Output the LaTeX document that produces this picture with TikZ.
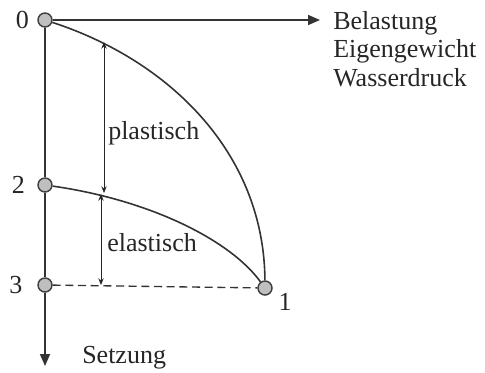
\documentclass[tikz,border=0pt]{standalone}
\usepackage{fontspec}
\setmainfont{Liberation Serif}
\usetikzlibrary{arrows.meta, positioning}

\begin{document}
\begin{tikzpicture}[
    x=0.75pt, y=-0.75pt,
    knot/.style={circle, draw=black!75, fill=black!25, line width=1.1pt, minimum size=10.5pt, inner sep=0pt},
    line/.style={line width=1.2pt, draw=black!80},
    arr/.style={line, -{Triangle[length=9pt, width=7.5pt]}},
    dbl/.style={{Stealth[length=5pt, width=4pt]}-{Stealth[length=5pt, width=4pt]}, line width=0.75pt, draw=black!85},
    lbl/.style={font=\fontsize{19.5}{21.5}\selectfont, text=black!85, inner sep=0pt}
]
\useasboundingbox (0,0) rectangle (485,372);

% Points
\node[knot] (p0) at (45,20) {};
\node[knot] (p2) at (45,185) {};
\node[knot] (p3) at (45,285) {};
\node[knot] (p1) at (265,288) {};
\node[lbl, left=6pt of p0] (n0) {0};
\node[lbl, left=9pt of p2] (n2) {2};
\node[lbl, left=11pt of p3] (n3) {3};
\node[lbl, below right=0pt and 6pt of p1] (n1) {1};

% Axes
\coordinate (ex) at (320,20);
\coordinate (ey) at (45,366);
\draw[arr] (p0) -- (ex);
\draw[line] (p0) -- (p2) -- (p3);
\draw[arr] (p3) -- (ey);
\node[lbl, align=left, anchor=north west] (bel) at (333,11) {Belastung\\Eigengewicht\\Wasserdruck};
\node[lbl, anchor=base west] (setz) at (82,363) {Setzung};

% Curves
\draw[line] (p0) .. controls (168,60) and (264,152) .. (p1);
\draw[line] (p2) .. controls (150,200) and (230,240) .. (p1);
\draw[line, line width=1pt, dash pattern=on 6pt off 3.5pt] (p3) -- (p1);

% Plastic and elastic parts
\coordinate (c1) at (104,42);
\coordinate (c2) at (104,193);
\coordinate (c3) at (101,194);
\coordinate (c4) at (101,285);
\draw[dbl] (c1) -- (c2);
\draw[dbl] (c3) -- (c4);
\node[lbl, anchor=west] (pl) at (108,133) {plastisch};
\node[lbl, anchor=west] (el) at (107,243) {elastisch};
\end{tikzpicture}
\end{document}
